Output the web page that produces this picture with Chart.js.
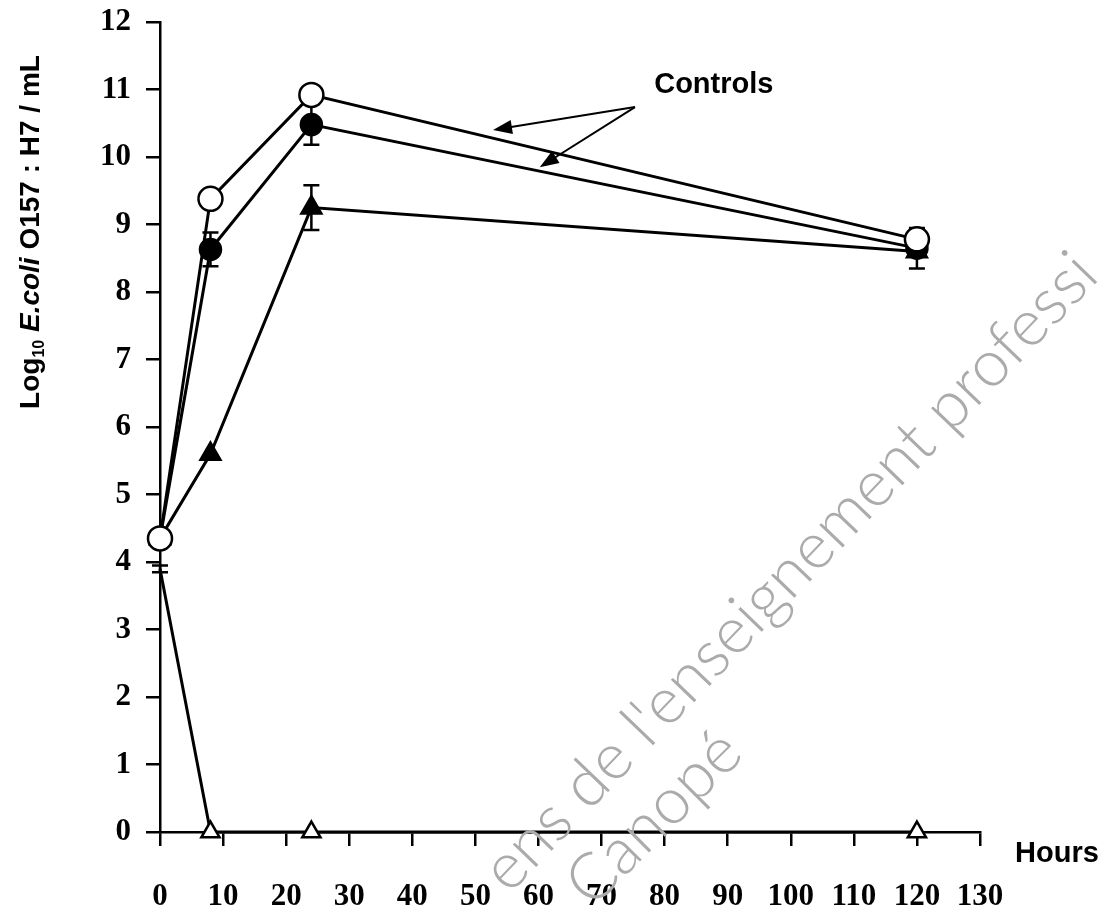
<!DOCTYPE html>
<html>
<head>
<meta charset="utf-8">
<script src="https://cdn.jsdelivr.net/npm/chart.js@4.4.1/dist/chart.umd.min.js"></script>
<style>
    body{ margin:0; background:#fff; }
    canvas{ display:block; }
</style>
</head>
<body>
<canvas id="ecoliChart" width="1105" height="912"></canvas>
<script>
// data
const hours = [0, 8, 24, 120];
const controlOpen = [4.35, 9.38, 10.92, 8.78];
const controlFilled = [4.35, 8.63, 10.48, 8.65];
const treatedFilledTriangle = [4.35, 5.6, 9.25, 8.6];
const treatedOpenTriangle = [3.9, 0, 0, 0];
const controlFilledErr = [0, 0.25, 0.3, 0.3];
const treatedFilledTriangleErr = [0, 0, 0.33, 0];
const treatedOpenTriangleErr = [0.05, 0, 0, 0];
const xTickValues = [0, 10, 20, 30, 40, 50, 60, 70, 80, 90, 100, 110, 120, 130];
const yTickValues = [0, 1, 2, 3, 4, 5, 6, 7, 8, 9, 10, 11, 12];

// annotation: "Controls" label with two arrows (data coordinates)
const controlsText = 'Controls';
const controlsLabelAt = {x: 87.8, y: 11.07};
const arrowFrom = {x: 75.3, y: 10.74};
const arrowTips = [{x: 52.8, y: 10.4}, {x: 60.2, y: 9.85}];

// watermark fragments visible on the scan
const watermarkLine1 = "ens de l'enseignement professi";
const watermarkLine2 = 'Canopé';

const serif = '"Liberation Serif", "Times New Roman", serif';
const sans = '"Liberation Sans", Arial, sans-serif';

function toPoints(values){
    return hours.map((h, i) => ({x: h, y: values[i]}));
}

let errorBars = {
    id: 'errorBars',
    beforeDatasetsDraw(chart){
        let ctx = chart.ctx;
        let xs = chart.scales.x;
        let ys = chart.scales.y;
        ctx.save();
        ctx.strokeStyle = '#000';
        ctx.lineWidth = 2.5;
        chart.data.datasets.forEach(ds => {
            if(!ds.errors) return;
            ds.data.forEach((p, i) => {
                let e = ds.errors[i];
                if(!e) return;
                let px = xs.getPixelForValue(p.x);
                let top = ys.getPixelForValue(p.y + e);
                let bot = ys.getPixelForValue(p.y - e);
                ctx.beginPath();
                ctx.moveTo(px, top); ctx.lineTo(px, bot);
                ctx.moveTo(px - 8, top); ctx.lineTo(px + 8, top);
                ctx.moveTo(px - 8, bot); ctx.lineTo(px + 8, bot);
                ctx.stroke();
            });
        });
        ctx.restore();
    }
};

let extras = {
    id: 'extras',
    afterDraw(chart){
        let ctx = chart.ctx;
        let xs = chart.scales.x;
        let ys = chart.scales.y;
        ctx.save();

        // y axis title with subscript and italic
        let parts = [
            {t: 'Log', f: 'bold 28px ' + sans, dy: 0},
            {t: '10', f: 'bold 16px ' + sans, dy: 5},
            {t: ' E.coli', f: 'italic bold 28px ' + sans, dy: 0},
            {t: ' O157 : H7 / mL', f: 'bold 28px ' + sans, dy: 0}
        ];
        let total = 0;
        parts.forEach(p => { ctx.font = p.f; p.w = ctx.measureText(p.t).width; total += p.w; });
        ctx.translate(39, 232);
        ctx.rotate(-Math.PI / 2);
        ctx.fillStyle = '#000';
        ctx.textBaseline = 'alphabetic';
        let cx = -total / 2;
        parts.forEach(p => {
            ctx.font = p.f;
            ctx.fillText(p.t, cx, p.dy);
            cx += p.w;
        });
        ctx.setTransform(1, 0, 0, 1, 0, 0);

        // x axis title
        ctx.font = 'bold 29px ' + sans;
        ctx.textAlign = 'center';
        ctx.fillText('Hours', 1057, 862);

        // controls label and arrows
        ctx.font = 'bold 29px ' + sans;
        ctx.textBaseline = 'middle';
        ctx.fillText(controlsText, xs.getPixelForValue(controlsLabelAt.x), ys.getPixelForValue(controlsLabelAt.y));
        let fx = xs.getPixelForValue(arrowFrom.x);
        let fy = ys.getPixelForValue(arrowFrom.y);
        ctx.strokeStyle = '#000';
        ctx.lineWidth = 2;
        arrowTips.forEach(t => {
            let tx = xs.getPixelForValue(t.x);
            let ty = ys.getPixelForValue(t.y);
            let ang = Math.atan2(ty - fy, tx - fx);
            let c = Math.cos(ang), s = Math.sin(ang);
            ctx.beginPath();
            ctx.moveTo(fx, fy);
            ctx.lineTo(tx - 12 * c, ty - 12 * s);
            ctx.stroke();
            ctx.beginPath();
            ctx.moveTo(tx, ty);
            ctx.lineTo(tx - 19 * c + 7 * s, ty - 19 * s - 7 * c);
            ctx.lineTo(tx - 19 * c - 7 * s, ty - 19 * s + 7 * c);
            ctx.closePath();
            ctx.fillStyle = '#000';
            ctx.fill();
        });

        // watermark, sized so the fragment spans the same length as on the scan
        ctx.fillStyle = '#ababab';
        ctx.textAlign = 'center';
        ctx.textBaseline = 'middle';
        ctx.font = '300 100px Lato, ' + sans;
        let wmSize = 100 * 855 / ctx.measureText(watermarkLine1).width;
        ctx.font = '300 ' + wmSize.toFixed(1) + 'px Lato, ' + sans;
        ctx.translate(790, 572);
        ctx.rotate(-46.2 * Math.PI / 180);
        ctx.fillText(watermarkLine1, 0, 0);
        ctx.setTransform(1, 0, 0, 1, 0, 0);
        ctx.translate(654, 818);
        ctx.rotate(-45 * Math.PI / 180);
        ctx.fillText(watermarkLine2, 0, 0);
        ctx.restore();
    }
};

let chartCanvas = document.getElementById('ecoliChart').getContext('2d');

let baseLine = {
    borderColor: '#000',
    borderWidth: 3,
    pointBorderColor: '#000',
    pointBorderWidth: 2.5,
    tension: 0,
    clip: false
};

let config = {
    type: 'line',
    data: {
        datasets: [
            Object.assign({}, baseLine, {
                label: 'Control (open circle)',
                data: toPoints(controlOpen),
                pointStyle: 'circle',
                pointRadius: 12,
                pointBackgroundColor: '#fff'
            }),
            Object.assign({}, baseLine, {
                label: 'Control (filled circle)',
                data: toPoints(controlFilled),
                errors: controlFilledErr,
                pointStyle: 'circle',
                pointRadius: 10.5,
                pointBackgroundColor: '#000'
            }),
            Object.assign({}, baseLine, {
                label: 'Filled triangle',
                data: toPoints(treatedFilledTriangle),
                errors: treatedFilledTriangleErr,
                pointStyle: 'triangle',
                pointRadius: 11.5,
                pointBackgroundColor: '#000'
            }),
            Object.assign({}, baseLine, {
                label: 'Open triangle',
                data: toPoints(treatedOpenTriangle),
                errors: treatedOpenTriangleErr,
                pointStyle: 'triangle',
                pointRadius: [0, 10.5, 10.5, 10.5],
                pointBackgroundColor: '#fff'
            })
        ]
    },
    options: {
        responsive: false,
        animation: false,
        layout: {padding: {top: 22, right: 125, left: 0, bottom: 0}},
        plugins: {
            legend: {display: false},
            tooltip: {enabled: false}
        },
        scales: {
            x: {
                type: 'linear',
                min: 0,
                max: 130,
                afterFit: s => { s.height = 80; s.paddingLeft = 0; s.paddingRight = 0; },
                afterBuildTicks: s => { s.ticks = xTickValues.map(v => ({value: v})); },
                border: {display: true, color: '#000', width: 2.5},
                grid: {drawOnChartArea: false, color: '#000', lineWidth: 2.5, tickLength: 14},
                ticks: {color: '#000', font: {family: serif, size: 31, weight: 'bold'}, padding: 32, maxRotation: 0, autoSkip: false}
            },
            y: {
                type: 'linear',
                min: 0,
                max: 12,
                afterFit: s => { s.width = 160; s.paddingTop = 0; s.paddingBottom = 0; },
                afterBuildTicks: s => { s.ticks = yTickValues.map(v => ({value: v})); },
                border: {display: true, color: '#000', width: 2.5},
                grid: {drawOnChartArea: false, color: '#000', lineWidth: 2.5, tickLength: 14},
                ticks: {color: '#000', font: {family: serif, size: 31, weight: 'bold'}, padding: 15, autoSkip: false}
            }
        }
    },
    plugins: [errorBars, extras]
};

let chart = new Chart(chartCanvas, config);
</script>
</body>
</html>
